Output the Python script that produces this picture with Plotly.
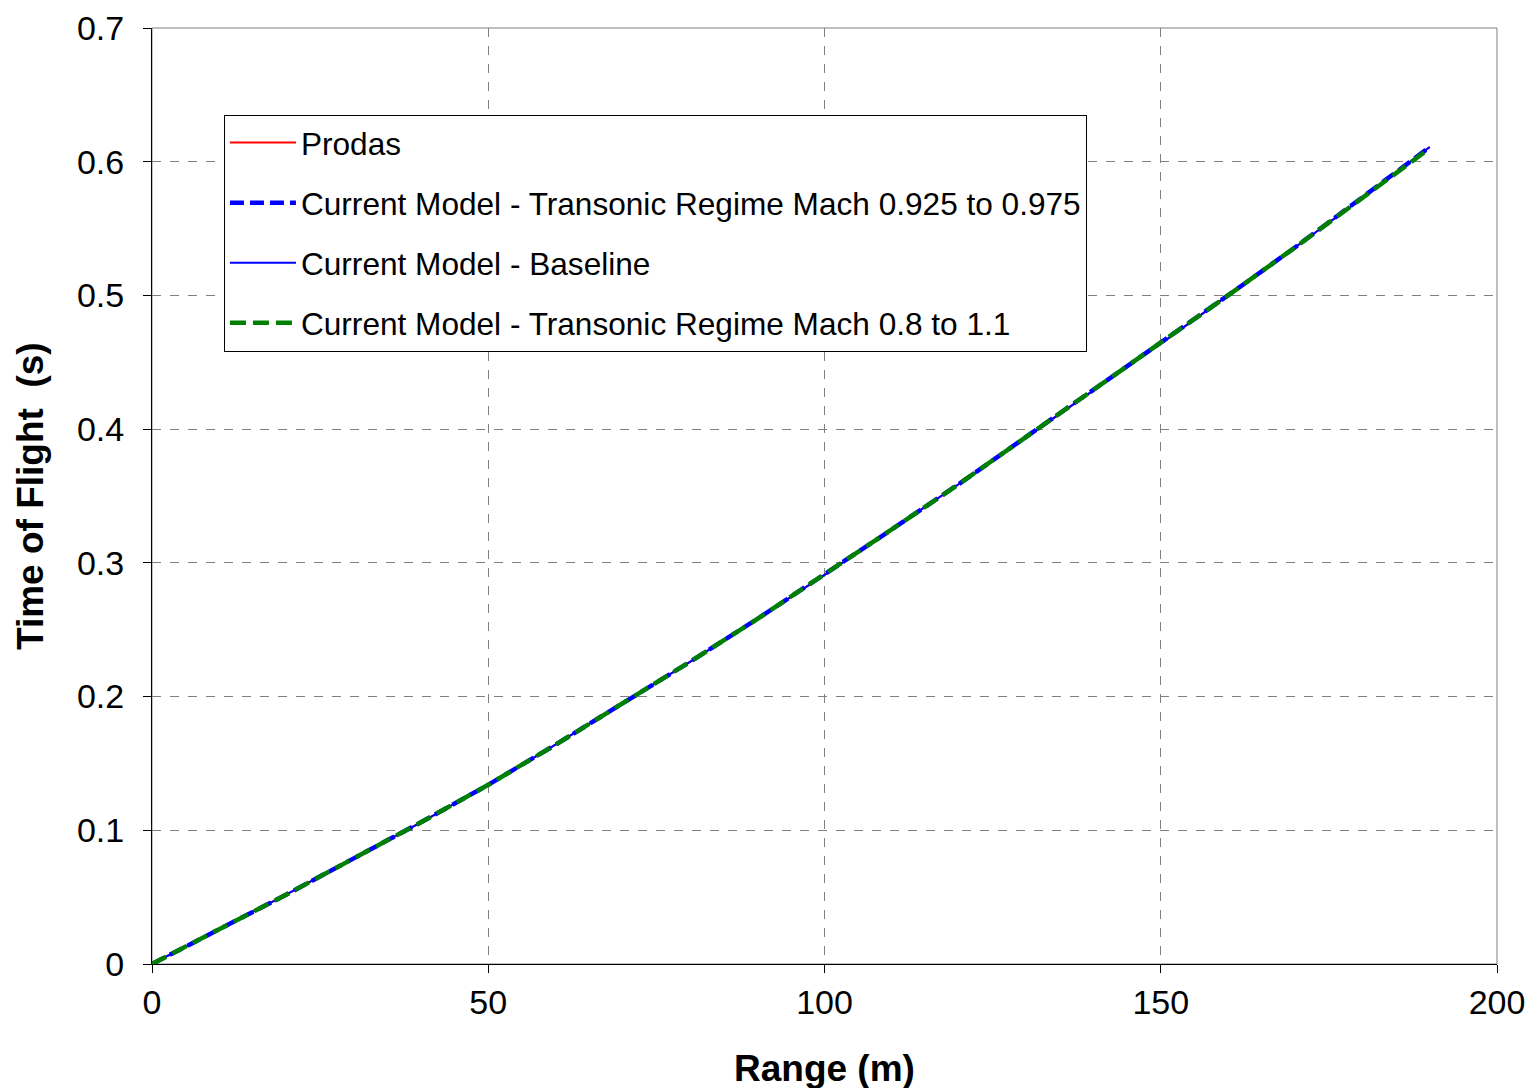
import plotly.graph_objects as go

range_m = [0, 10, 20, 30, 40, 50, 60, 70, 80, 90, 100, 110, 120, 130, 140, 150, 160, 170, 180, 190]
tof_prodas = [0.000, 0.026, 0.052, 0.079, 0.106, 0.134, 0.164, 0.195, 0.226, 0.258, 0.291,
              0.325, 0.359, 0.394, 0.429, 0.464, 0.500, 0.536, 0.573, 0.611]
tof_transonic_narrow = [0.000, 0.026, 0.052, 0.079, 0.106, 0.134, 0.164, 0.195, 0.226, 0.258, 0.291,
                        0.325, 0.359, 0.394, 0.429, 0.464, 0.500, 0.536, 0.573, 0.611]
tof_baseline = [0.000, 0.026, 0.052, 0.079, 0.106, 0.134, 0.164, 0.195, 0.226, 0.258, 0.291,
                0.325, 0.359, 0.394, 0.429, 0.464, 0.500, 0.536, 0.573, 0.611]
tof_transonic_wide = [0.000, 0.026, 0.052, 0.079, 0.106, 0.134, 0.164, 0.195, 0.226, 0.258, 0.291,
                      0.325, 0.359, 0.394, 0.429, 0.464, 0.500, 0.536, 0.573, 0.610]

series_names = ["Prodas",
                "Current Model - Transonic Regime Mach 0.925 to 0.975",
                "Current Model - Baseline",
                "Current Model - Transonic Regime Mach 0.8 to 1.1"]

x_ticks = [0, 50, 100, 150, 200]
y_ticks = [0, 0.1, 0.2, 0.3, 0.4, 0.5, 0.6, 0.7]
y_tick_text = ["0", "0.1", "0.2", "0.3", "0.4", "0.5", "0.6", "0.7"]
x_title = "Range (m)"
y_title = "Time of Flight  (s)"

FONT = "Liberation Sans, Arial, sans-serif"

fig = go.Figure()
fig.add_trace(go.Scatter(x=range_m, y=tof_prodas, mode="lines", name=series_names[0],
                         legendgroup="a", line=dict(color="#ff0000", width=2)))
fig.add_trace(go.Scatter(x=range_m, y=tof_transonic_narrow, mode="lines", name=series_names[1],
                         legendgroup="b", line=dict(color="#0000ff", width=4.5, dash="14px,6px")))
fig.add_trace(go.Scatter(x=range_m, y=tof_baseline, mode="lines", name=series_names[2],
                         legendgroup="c", line=dict(color="#0000ff", width=2)))
fig.add_trace(go.Scatter(x=range_m, y=tof_transonic_wide, mode="lines", name=series_names[3],
                         legendgroup="d", line=dict(color="#008000", width=4.5, dash="16px,7px")))

fig.add_shape(type="rect", xref="paper", yref="paper", x0=0, y0=0, x1=1, y1=1,
              line=dict(color="#808080", width=1), layer="below")

fig.add_annotation(text="<b>" + x_title + "</b>", xref="paper", yref="paper", x=0.5, y=0,
                   xanchor="center", yanchor="middle", yshift=-104, showarrow=False,
                   font=dict(family=FONT, size=37, color="black"))
fig.add_annotation(text="<b>" + y_title.replace("  ", "&nbsp; ") + "</b>", xref="paper", yref="paper",
                   x=0, y=0.5, xanchor="center", yanchor="middle", xshift=-122, textangle=-90,
                   showarrow=False, font=dict(family=FONT, size=37, color="black"))

fig.update_layout(
    width=1529, height=1088,
    margin=dict(l=152, r=32, t=28, b=124),
    paper_bgcolor="white", plot_bgcolor="white",
    font=dict(family=FONT, size=31, color="black"),
    showlegend=True,
    legend=dict(x=0.0535, y=0.9075, xanchor="left", yanchor="top",
                bgcolor="white", bordercolor="black", borderwidth=1,
                font=dict(family=FONT, size=31.6, color="black"),
                tracegroupgap=16, itemwidth=66),
    xaxis=dict(range=[0, 200], tickvals=x_ticks, ticktext=[str(v) for v in x_ticks],
               showline=True, linecolor="black", linewidth=1,
               ticks="outside", ticklen=8, tickcolor="black",
               showgrid=True, gridcolor="#808080", griddash="dash", gridwidth=1,
               zeroline=False, automargin=False,
               tickfont=dict(size=34)),
    yaxis=dict(range=[0, 0.7], tickvals=y_ticks, ticktext=y_tick_text,
               showline=True, linecolor="black", linewidth=1,
               ticks="outside", ticklen=8, tickcolor="black",
               showgrid=True, gridcolor="#808080", griddash="dash", gridwidth=1,
               zeroline=False, automargin=False, ticklabelstandoff=12,
               tickfont=dict(size=34)),
)

fig.write_html("out.html")
